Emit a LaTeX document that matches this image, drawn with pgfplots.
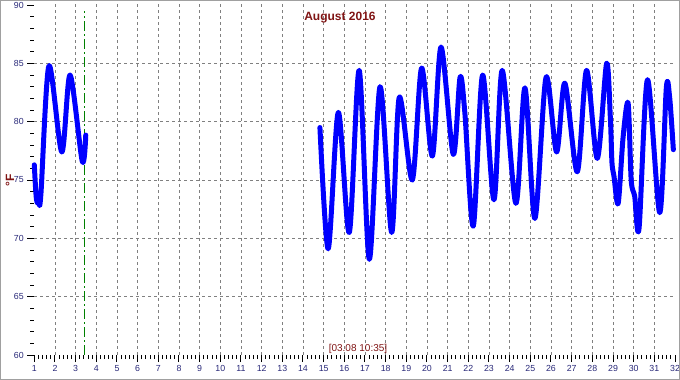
\documentclass[border=0pt]{standalone}
\usepackage{fontspec}
\setmainfont{Liberation Sans}
\usepackage{pgfplots}
\pgfplotsset{compat=1.18}
\definecolor{tickblue}{RGB}{40,40,120}
\definecolor{darkred}{RGB}{128,20,20}
\definecolor{gridgray}{RGB}{128,128,128}
\definecolor{vgreen}{RGB}{0,128,0}
\definecolor{framegray}{RGB}{160,160,160}
\begin{document}
\begin{tikzpicture}[x=1pt,y=1pt]
\useasboundingbox (0,0) rectangle (680,380);
\begin{axis}[
  at={(34.3pt,25pt)}, anchor=south west,
  scale only axis, width=640.7pt, height=355pt,
  xmin=1, xmax=32, ymin=60, ymax=90.43,
  xtick={1,...,32}, ytick={60,65,...,90},
  minor x tick num=4, minor y tick num=4,
  tick pos=left,
  axis line style={draw=none},
  tick align=outside, major tick length=7pt, minor tick length=4pt,
  every tick/.style={draw=black, line width=1pt},
  extra x ticks={2,...,31}, extra x tick labels={},
  extra y ticks={65,70,75,80,85}, extra y tick labels={},
  extra tick style={grid=major, major tick length=0pt},
  major grid style={gridgray, dash pattern=on 3pt off 3pt, line width=0.8pt},
  ticklabel style={font=\fontsize{8.8}{10}\selectfont, text=tickblue},
  /pgf/number format/assume math mode=true,
  clip=false,
]
\addplot[vgreen, line width=1pt, dash pattern=on 10pt off 3pt on 2pt off 3pt] coordinates {(3.44,60) (3.44,89.5)};
\addplot[blue, line width=5pt, smooth, line join=round, line cap=round] coordinates {
(1.0,76.3) (1.1,73.4) (1.22,73.0) (1.32,73.8) (1.71,84.8) (2.33,77.4) (2.73,84.0) (3.32,76.6) (3.49,78.85)
};
\addplot[blue, line width=5pt, smooth, line join=round, line cap=round] coordinates {
(14.82,79.5) (15.22,69.1) (15.71,80.8) (16.24,70.5) (16.72,84.4) (17.21,68.2) (17.73,83.0) (18.29,70.5) (18.66,82.1) (19.29,75.0) (19.74,84.6) (20.26,77.05) (20.68,86.4) (21.27,77.2) (21.60,83.8) (21.83,80.8) (22.24,71.05) (22.69,84.0) (23.24,73.3) (23.64,84.4) (24.30,73.0) (24.74,82.9) (25.22,71.7) (25.76,83.8) (26.27,77.4) (26.67,83.3) (27.27,75.7) (27.72,84.4) (28.24,76.85) (28.69,85.0) (28.87,80.4) (28.95,76.5) (29.05,75.3) (29.25,73.0) (29.49,78.7) (29.73,81.6) (29.88,75.0) (30.05,73.6) (30.26,70.85) (30.67,83.6) (31.26,72.2) (31.58,82.9) (31.74,82.1) (31.92,77.6)
};
\end{axis}
\node[font=\bfseries\fontsize{12}{14}\selectfont, text=darkred] at (340,362) {August 2016};
\node[font=\bfseries\fontsize{12}{14}\selectfont, text=darkred, rotate=90] at (10,200) {°F};
\node[font=\fontsize{10}{12}\selectfont, text=darkred] at (358,31) {[03.08 10:35]};
\draw[framegray, line width=1.2pt] (0.6,0.6) rectangle (679.4,379.4);
\end{tikzpicture}
\end{document}
